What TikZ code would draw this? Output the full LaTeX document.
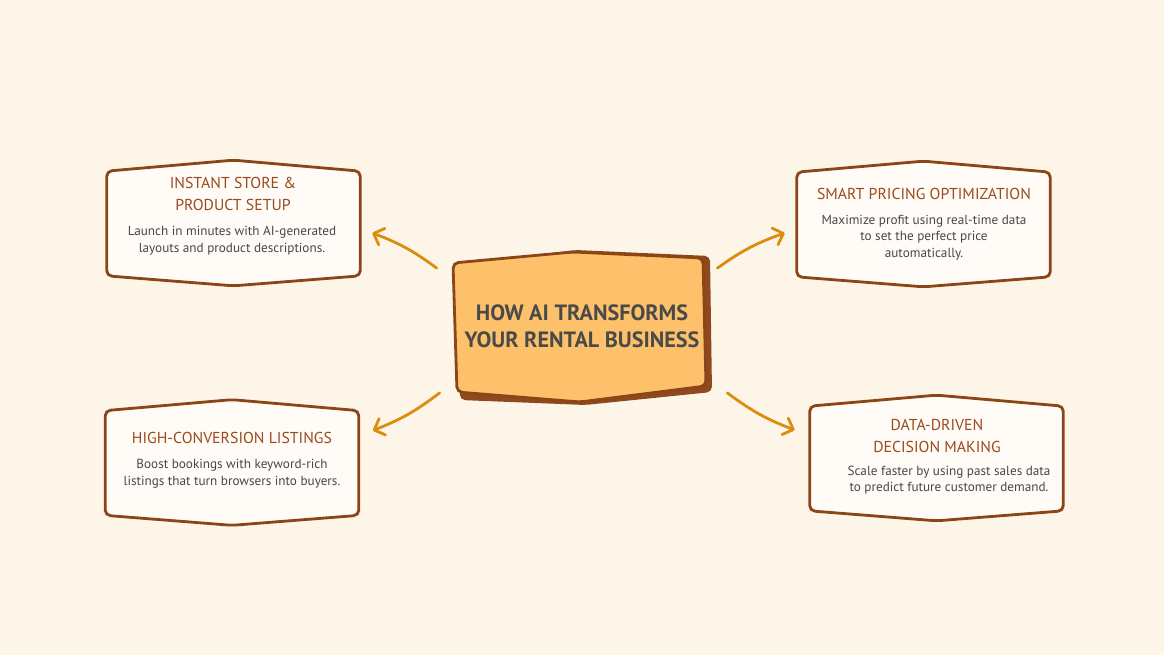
\documentclass[tikz,border=0pt]{standalone}
\usepackage{fontspec}
\setmainfont{PT Sans}
\usepackage{tikz}
\usetikzlibrary{arrows.meta,positioning}

\definecolor{pagebg}{HTML}{FEF5E9}
\definecolor{cardfill}{HTML}{FFFCF8}
\definecolor{brownline}{HTML}{8B4516}
\definecolor{ttlbrown}{HTML}{9A4A1C}
\definecolor{bodygray}{HTML}{474747}
\definecolor{hubfill}{HTML}{FEC16B}
\definecolor{hubgray}{HTML}{4A4A48}
\definecolor{shadowbrown}{HTML}{8E4A1E}
\definecolor{arrowgold}{HTML}{D98E0E}

% frame with a shallow point at top and bottom, drawn round an empty card node
\newcommand{\cardframe}[1]{%
  \draw[frame] ([shift={(0,11)}]#1.north west) -- (#1.north)
    -- ([shift={(0,11)}]#1.north east) -- ([shift={(0,-10)}]#1.south east)
    -- (#1.south) -- ([shift={(0,-10)}]#1.south west) -- cycle;}

\begin{document}
\begin{tikzpicture}[x=0.02cm, y=-0.02cm,
  card/.style={minimum width=5.06cm, minimum height=2.5cm, inner sep=0pt},
  frame/.style={draw=brownline, line width=1.6pt, fill=cardfill,
                rounded corners=3pt, line join=round},
  hubbox/.style={minimum width=5cm, minimum height=2.7cm, inner sep=0pt},
  ttl/.style={font=\fontsize{9}{12.5}\selectfont, text=ttlbrown,
              align=center, inner sep=0pt},
  txt/.style={font=\fontsize{7.5}{9.4}\selectfont, text=bodygray,
              align=center, inner sep=0pt},
  hubtxt/.style={font=\fontsize{12.6}{15.5}\selectfont\bfseries,
                 text=hubgray, align=center, inner sep=0pt},
  arr/.style={draw=arrowgold, line width=1.6pt, line cap=round,
              -{Straight Barb[length=5pt,width=10pt,round]}},
]

\fill[pagebg] (0,0) rectangle (1164,655);
\useasboundingbox (0,0) rectangle (1164,655);

%% ---- Centre ----
\node[hubbox] (hub) at (580,327) {};
\begin{scope}[shift={(hub.center)}]
  \fill[shadowbrown, rounded corners=3pt]
    (-124,-60) -- (-5,-77) -- (130,-71) -- (132,65) -- (5,78) -- (-120,73) -- cycle;
  \draw[draw=brownline, line width=1.6pt, fill=hubfill, rounded corners=3pt]
    (-127,-64) -- (-7,-75) -- (123,-69) -- (126,59) -- (0,75) -- (-123,65) -- cycle;
\end{scope}
\node[hubtxt] (hubt) at (582,326) {HOW AI TRANSFORMS\\YOUR RENTAL BUSINESS};

%% ---- Cards ----
\node[card] (store) at (233.5,223) {};
\node[card] (price) at (923.5,224) {};
\node[card] (list)  at (232,462.5) {};
\node[card] (data)  at (936.5,458) {};

\cardframe{store}
\cardframe{price}
\cardframe{list}
\cardframe{data}

\node[ttl] (storet) at (233,194) {INSTANT STORE \&\\PRODUCT SETUP};
\node[txt] (storeb) at (232,240.5)
  {Launch in minutes with AI-generated\\layouts and product descriptions.};

\node[ttl] (pricet) at (924,194) {SMART PRICING OPTIMIZATION};
\node[txt] (priceb) at (924,237.5)
  {Maximize profit using real-time data\\to set the perfect price\\automatically.};

\node[ttl] (listt) at (232,438) {HIGH-CONVERSION LISTINGS};
\node[txt] (listb) at (232,473.5)
  {Boost bookings with keyword-rich\\listings that turn browsers into buyers.};

\node[ttl] (datat) at (937,435.5) {DATA-DRIVEN\\DECISION MAKING};
\node[txt] (datab) at (949,480)
  {Scale faster by using past sales data\\to predict future customer demand.};

%% ---- Arrows ----
\draw[arr] ([shift={(-18,9)}]hub.north west) to[bend right=8] ([shift={(12,10)}]store.east);
\draw[arr] ([shift={(12,9)}]hub.north east) to[bend left=8] ([shift={(-12,9)}]price.west);
\draw[arr] ([shift={(-15,-2)}]hub.south west) to[bend left=8] ([shift={(14,-32)}]list.east);
\draw[arr] ([shift={(22,-2)}]hub.south east) to[bend right=8] ([shift={(-15,-28)}]data.west);

\end{tikzpicture}
\end{document}
